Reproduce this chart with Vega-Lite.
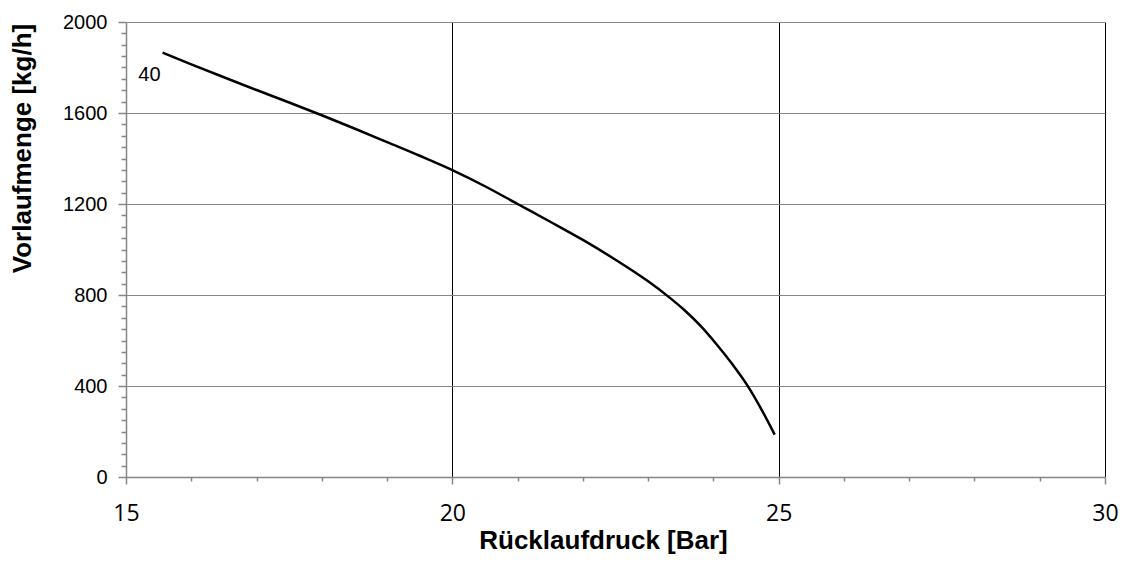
{
  "$schema": "https://vega.github.io/schema/vega-lite/v6.json",
  "autosize": {"type": "none"},
  "width": 979,
  "height": 455,
  "padding": {"left": 126, "top": 22, "right": 24, "bottom": 85},
  "background": "white",
  "config": {"view": {"stroke": null}, "font": "Liberation Sans"},
  "resolve": {"axis": {"x": "independent", "y": "independent"}},
  "layer": [
    {
      "data": {"values": [
        {"druck": 15.56, "menge": 1865},
        {"druck": 16.0, "menge": 1814},
        {"druck": 16.5, "menge": 1757},
        {"druck": 17.0, "menge": 1701},
        {"druck": 17.5, "menge": 1646},
        {"druck": 18.0, "menge": 1590},
        {"druck": 18.5, "menge": 1532},
        {"druck": 19.0, "menge": 1472},
        {"druck": 19.5, "menge": 1412},
        {"druck": 20.0, "menge": 1349},
        {"druck": 20.5, "menge": 1278},
        {"druck": 21.0, "menge": 1200},
        {"druck": 21.5, "menge": 1122},
        {"druck": 22.0, "menge": 1042},
        {"druck": 22.5, "menge": 955},
        {"druck": 23.0, "menge": 860},
        {"druck": 23.3, "menge": 795},
        {"druck": 23.55, "menge": 735},
        {"druck": 23.8, "menge": 665},
        {"druck": 24.06, "menge": 579},
        {"druck": 24.3, "menge": 492},
        {"druck": 24.52, "menge": 403},
        {"druck": 24.75, "menge": 290},
        {"druck": 24.94, "menge": 186}
      ]},
      "mark": {"type": "line", "color": "black", "strokeWidth": 2.5, "interpolate": "monotone"},
      "encoding": {
        "x": {
          "field": "druck", "type": "quantitative",
          "scale": {"domain": [15, 30], "nice": false, "zero": false},
          "axis": {
            "orient": "bottom",
            "values": [15, 20, 25, 30],
            "format": "d",
            "title": "Rücklaufdruck [Bar]",
            "titleFont": "Liberation Sans", "titleFontSize": 26, "titleFontWeight": "bold", "titleColor": "black",
            "titleX": 477, "titleY": 71, "titleBaseline": "alphabetic", "titleAlign": "center",
            "labelFont": "Open Sans", "labelFontSize": 23, "labelColor": "black",
            "labelBaseline": "alphabetic", "labelPadding": 36, "labelFlush": false,
            "tickSize": 7, "tickColor": "#868686", "tickWidth": 1.5,
            "domainColor": "#868686", "domainWidth": 1.5,
            "grid": true,
            "gridColor": {"condition": {"test": "datum.value == 15", "value": "#868686"}, "value": "black"},
            "gridWidth": 1
          }
        },
        "y": {
          "field": "menge", "type": "quantitative",
          "scale": {"domain": [0, 2000], "nice": false},
          "axis": {
            "orient": "left",
            "values": [0, 400, 800, 1200, 1600, 2000],
            "format": "d",
            "title": "Vorlaufmenge [kg/h]",
            "titleFont": "Liberation Sans", "titleFontSize": 26, "titleFontWeight": "bold", "titleColor": "black",
            "titleAngle": 270, "titleX": -104, "titleY": 126, "titleAlign": "center", "titleBaseline": "middle",
            "labelFont": "Liberation Sans", "labelFontSize": 20, "labelColor": "black",
            "labelPadding": 11, "labelBaseline": "middle", "labelFlush": false,
            "tickSize": 8, "tickColor": "#868686", "tickWidth": 1.5,
            "domainColor": "#868686", "domainWidth": 1.5,
            "grid": true, "gridColor": "#868686", "gridWidth": 1
          }
        }
      }
    },
    {
      "data": {"values": [{"druck": 15.36, "menge": 1767, "label": "40"}]},
      "mark": {"type": "text", "font": "Liberation Sans", "fontSize": 20, "color": "black", "align": "center", "baseline": "middle"},
      "encoding": {
        "x": {
          "field": "druck", "type": "quantitative",
          "axis": {
            "orient": "bottom",
            "values": [16, 17, 18, 19, 21, 22, 23, 24, 26, 27, 28, 29],
            "title": null, "labels": false, "domain": false, "grid": false,
            "tickSize": 4, "tickColor": "#868686", "tickWidth": 1.5
          }
        },
        "y": {
          "field": "menge", "type": "quantitative",
          "axis": {
            "orient": "left",
            "values": [50, 100, 150, 200, 250, 300, 350, 450, 500, 550, 600, 650, 700, 750, 850, 900, 950, 1000, 1050, 1100, 1150, 1250, 1300, 1350, 1400, 1450, 1500, 1550, 1650, 1700, 1750, 1800, 1850, 1900, 1950],
            "title": null, "labels": false, "domain": false, "grid": false,
            "tickSize": 5, "tickColor": "#868686", "tickWidth": 1.5
          }
        },
        "text": {"field": "label"}
      }
    }
  ]
}
